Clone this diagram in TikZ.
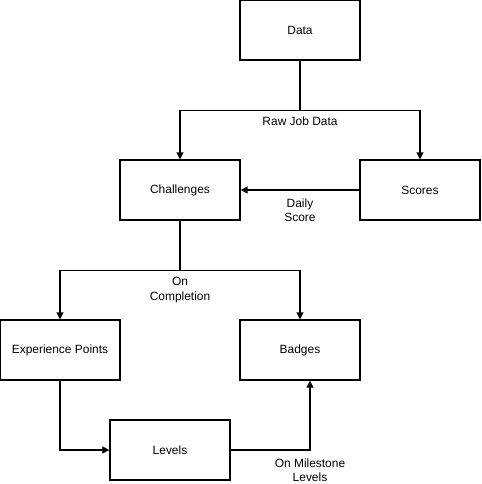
\documentclass[tikz,border=0pt]{standalone}
\usepackage{fontspec}
\setmainfont{Liberation Sans}
\usetikzlibrary{arrows.meta}
\begin{document}
\begin{tikzpicture}[x=0.02cm,y=-0.02cm,
	font=\fontsize{6.8}{8.2}\selectfont,
	box/.style={draw,thick,rectangle,minimum width=2.4cm,minimum height=1.2cm,inner sep=0pt},
	arr/.style={thick,-{Triangle[length=4pt,width=4pt]}},
	lbl/.style={align=center,inner sep=0pt}]
	\useasboundingbox (0,0) rectangle (481,484);
		\node[box] (data) at (300,30) {Data};
		\node[box] (chal) at (180,190) {Challenges};
		\node[box] (scores) at (420,190) {Scores};
		\node[box] (exp) at (60,350) {Experience Points};
		\node[box] (badges) at (300,350) {Badges};
		\node[box] (levels) at (170,450) {Levels};
		\draw[arr] (data.south) -- ++(0,50) -| (chal.north);
		\draw[arr] (data.south) -- ++(0,50) -| (scores.north);
		\draw[arr] (scores.west) -- (chal.east);
		\draw[arr] (chal.south) -- ++(0,50) -| (exp.north);
		\draw[arr] (chal.south) -- ++(0,50) -| (badges.north);
		\draw[arr] (exp.south) |- (levels.west);
		\draw[arr] (levels.east) -| ([xshift=0.2cm]badges.south);
		\node[lbl] (rawlbl) at (300,121) {Raw Job Data};
		\node[lbl] (dailylbl) at (300,210) {Daily\\Score};
		\node[lbl] (complbl) at (180,290) {On\\Completion};
		\node[lbl] (milelbl) at (310,470) {On Milestone\\Levels};
	\end{tikzpicture}
\end{document}
